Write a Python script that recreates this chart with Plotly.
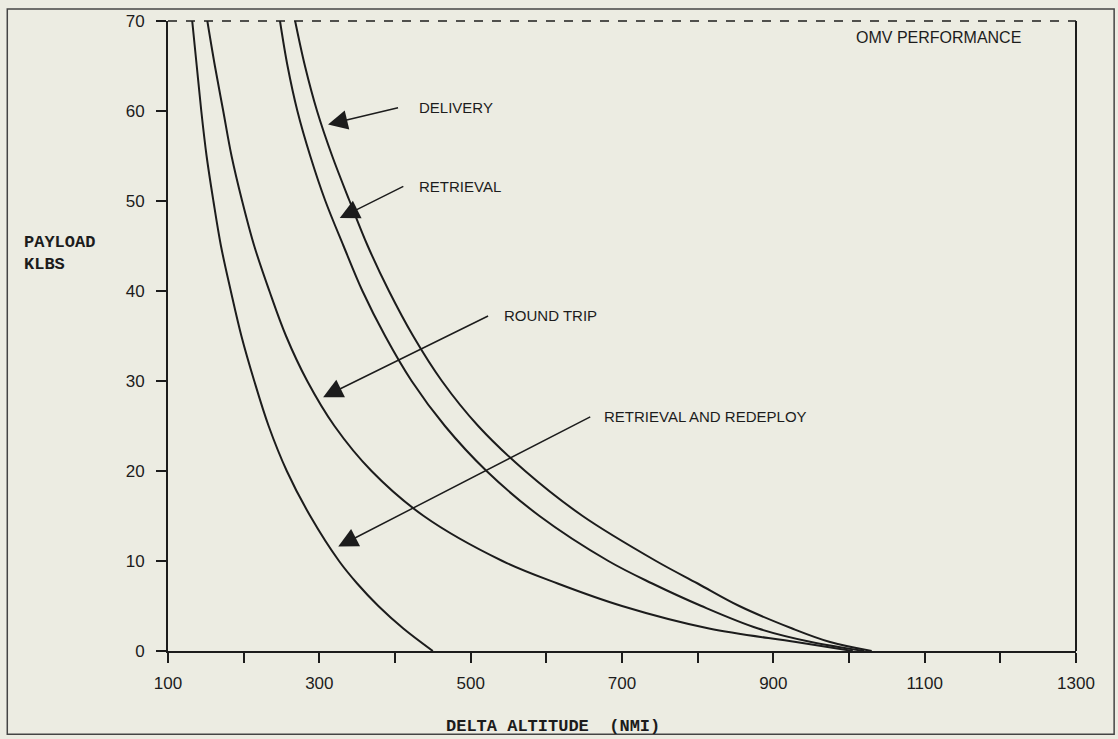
import plotly.graph_objects as go

# ---- data (altitude in NMI, payload in KLBS) ----
PAY_DELIVERY = [70, 65, 60, 55, 50, 45, 40, 35, 30, 25, 20, 15, 10, 7.5, 5, 2.5, 1, 0]
ALT_DELIVERY = [268, 281, 297, 317, 340, 364, 392, 424, 462, 510, 572, 648, 745, 800, 855, 925, 975, 1030]

PAY_RETRIEVAL = [70, 65, 60, 55, 50, 45, 40, 35, 30, 25, 20, 15, 10, 7.5, 5, 2.5, 1, 0]
ALT_RETRIEVAL = [248, 258, 271, 288, 308, 332, 357, 387, 422, 466, 521, 591, 682, 740, 805, 880, 950, 1020]

PAY_ROUND_TRIP = [70, 65, 60, 55, 50, 45, 40, 35, 30, 25, 20, 15, 10, 7.5, 5, 2.5, 1, 0]
ALT_ROUND_TRIP = [152, 162, 173, 184, 198, 214, 234, 256, 284, 320, 369, 438, 542, 615, 700, 815, 930, 1005]

PAY_RET_REDEPLOY = [70, 65, 60, 55, 50, 45, 40, 35, 30, 25, 20, 15, 10, 7.5, 5, 2.5, 0]
ALT_RET_REDEPLOY = [132, 138, 144, 151, 160, 170, 183, 197, 214, 233, 257, 288, 326, 350, 378, 411, 450]

X_TICKS = [100, 200, 300, 400, 500, 600, 700, 800, 900, 1000, 1100, 1200, 1300]
X_TICK_TEXT = ["100", "", "300", "", "500", "", "700", "", "900", "", "1100", "", "1300"]
Y_TICKS = [0, 10, 20, 30, 40, 50, 60, 70]

# labels: (text, text x, text y, arrow tail x, tail y, tip x, tip y)
LABELS = [
    ("DELIVERY", 429, 60.4, 406, 60.4, 311.5, 58.5),
    ("RETRIEVAL", 429, 51.6, 413, 51.7, 327, 48.1),
    ("ROUND TRIP", 541, 37.3, 525, 37.3, 305, 28.2),
    ("RETRIEVAL AND REDEPLOY", 674, 26.1, 660, 26.1, 325, 11.6),
]

BG = "#ecece2"
INK = "#1c1c1c"

fig = go.Figure()
for xs, ys in [(ALT_DELIVERY, PAY_DELIVERY), (ALT_RETRIEVAL, PAY_RETRIEVAL),
               (ALT_ROUND_TRIP, PAY_ROUND_TRIP), (ALT_RET_REDEPLOY, PAY_RET_REDEPLOY)]:
    fig.add_trace(go.Scatter(x=xs, y=ys, mode="lines",
                             line=dict(color=INK, width=2, shape="spline", smoothing=1.0),
                             showlegend=False, hoverinfo="skip"))

for text, tx, ty, ax_, ay_, hx, hy in LABELS:
    fig.add_annotation(x=hx, y=hy, ax=ax_, ay=ay_, xref="x", yref="y", axref="x", ayref="y",
                       text="", showarrow=True, arrowhead=2, arrowsize=2.6, arrowwidth=1.5,
                       arrowcolor=INK)
    fig.add_annotation(x=tx, y=ty, xref="x", yref="y", text=text, showarrow=False,
                       xanchor="left", yanchor="middle",
                       font=dict(family="Liberation Sans, Arial", size=15, color=INK))

fig.add_annotation(x=1006, y=68.2, xref="x", yref="y", text="OMV PERFORMANCE", showarrow=False,
                   xanchor="left", yanchor="middle",
                   font=dict(family="Liberation Sans, Arial", size=16, color=INK))

# axis titles
fig.add_annotation(x=-0.161, y=0.631, xref="paper", yref="paper", text="<b>PAYLOAD<br>KLBS</b>",
                   showarrow=False, xanchor="left", yanchor="middle", align="left",
                   font=dict(family="Liberation Mono, Courier New", size=17, color=INK))
fig.add_annotation(x=0.424, y=-0.12, xref="paper", yref="paper", text="<b>DELTA ALTITUDE  (NMI)</b>",
                   showarrow=False, xanchor="center", yanchor="middle",
                   font=dict(family="Liberation Mono, Courier New", size=17, color=INK))

# frame pieces: dashed top, solid right, outer page border
fig.add_shape(type="line", xref="paper", yref="paper", x0=0, x1=1, y0=1, y1=1,
              line=dict(color=INK, width=1.5, dash="dash"))
fig.add_shape(type="line", xref="paper", yref="paper", x0=1, x1=1, y0=0, y1=1,
              line=dict(color=INK, width=2))
fig.add_shape(type="rect", xref="paper", yref="paper", x0=-0.177, x1=1.042, y0=-0.132, y1=1.019,
              line=dict(color="#444", width=1.5))

fig.update_xaxes(range=[100, 1300], tickvals=X_TICKS, ticktext=X_TICK_TEXT,
                 ticks="outside", ticklen=10, tickwidth=1.5, tickcolor=INK,
                 showline=True, linecolor=INK, linewidth=2, showgrid=False, zeroline=False,
                 tickfont=dict(family="Liberation Sans, Arial", size=17, color=INK),
                 ticklabelstandoff=6)
fig.update_yaxes(range=[0, 70], tickvals=Y_TICKS,
                 ticks="outside", ticklen=10, tickwidth=1.5, tickcolor=INK,
                 showline=True, linecolor=INK, linewidth=2, showgrid=False, zeroline=False,
                 tickfont=dict(family="Liberation Sans, Arial", size=17, color=INK),
                 ticklabelstandoff=8)

fig.update_layout(width=1118, height=739, margin=dict(l=168, r=42, t=17, b=88),
                  paper_bgcolor=BG, plot_bgcolor=BG)

fig.write_html("out.html", config={"displayModeBar": False},
               post_script="document.body.style.margin='0';document.body.style.overflow='hidden';"
                           "document.body.style.background='#ecece2';")
